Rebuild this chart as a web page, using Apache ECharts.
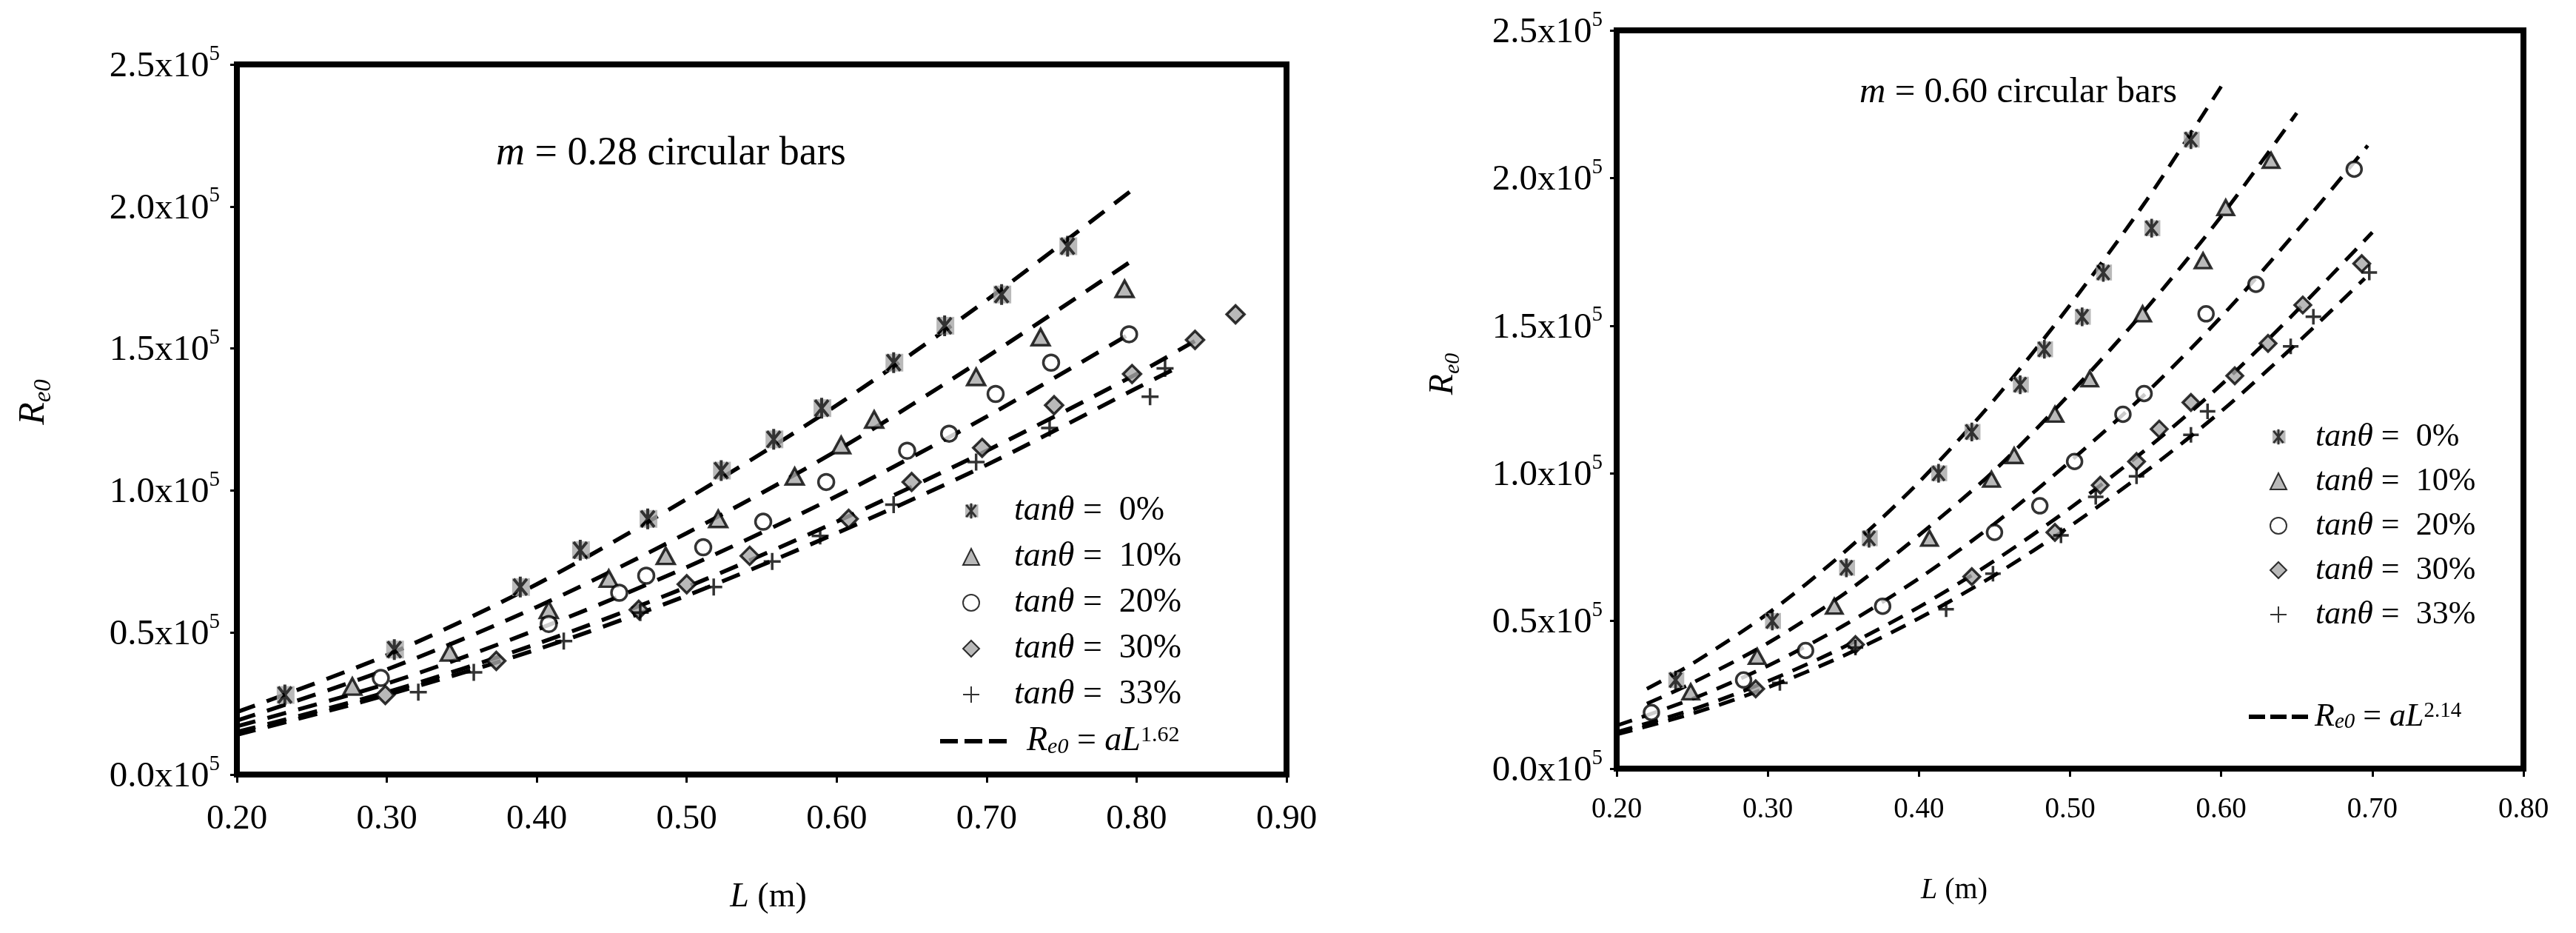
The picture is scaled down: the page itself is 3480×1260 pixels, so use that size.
<!DOCTYPE html>
<html>
<head>
<meta charset="utf-8">
<script src="https://cdn.jsdelivr.net/npm/echarts@6/dist/echarts.min.js"></script>
<style>
html, body { margin: 0; padding: 0; background: #fff; }
#chart { width: 3480px; height: 1260px; }
</style>
</head>
<body>
<div id="chart"></div>
<script>
// Re0 in units of 10^5, L in metres

// m = 0.28 circular bars (left)
var left0  = [[0.232,0.28],[0.305,0.44],[0.389,0.66],[0.429,0.79],[0.474,0.90],[0.523,1.07],[0.558,1.18],[0.590,1.29],[0.638,1.45],[0.672,1.58],[0.710,1.69],[0.754,1.86]];
var left10 = [[0.277,0.31],[0.342,0.43],[0.408,0.58],[0.448,0.69],[0.486,0.77],[0.521,0.90],[0.572,1.05],[0.603,1.16],[0.625,1.25],[0.693,1.40],[0.736,1.54],[0.792,1.71]];
var left20 = [[0.296,0.34],[0.408,0.53],[0.455,0.64],[0.473,0.70],[0.511,0.80],[0.551,0.89],[0.593,1.03],[0.647,1.14],[0.675,1.20],[0.706,1.34],[0.743,1.45],[0.795,1.55]];
var left30 = [[0.299,0.28],[0.373,0.40],[0.468,0.58],[0.500,0.67],[0.542,0.77],[0.608,0.90],[0.650,1.03],[0.697,1.15],[0.745,1.30],[0.797,1.41],[0.839,1.53],[0.866,1.62]];
var left33 = [[0.321,0.29],[0.358,0.36],[0.418,0.47],[0.469,0.57],[0.518,0.66],[0.557,0.75],[0.589,0.84],[0.638,0.95],[0.693,1.10],[0.742,1.22],[0.809,1.33],[0.819,1.43]];

// dashed fit curves
var leftFit0  = [[0.20,0.22],[0.30,0.42],[0.40,0.67],[0.50,0.97],[0.60,1.30],[0.70,1.67],[0.80,2.07]];
var leftFit10 = [[0.20,0.19],[0.30,0.37],[0.40,0.59],[0.50,0.85],[0.60,1.14],[0.70,1.47],[0.80,1.82]];
var leftFit20 = [[0.20,0.17],[0.30,0.32],[0.40,0.51],[0.50,0.73],[0.60,0.98],[0.70,1.26],[0.795,1.55]];
var leftFit30 = [[0.20,0.15],[0.30,0.29],[0.40,0.46],[0.50,0.66],[0.60,0.89],[0.70,1.14],[0.80,1.41],[0.84,1.53]];
var leftFit33 = [[0.20,0.14],[0.30,0.28],[0.40,0.44],[0.50,0.63],[0.60,0.85],[0.70,1.09],[0.80,1.36],[0.826,1.43]];

// m = 0.60 circular bars (right)
var right0  = [[0.239,0.30],[0.303,0.50],[0.352,0.68],[0.367,0.78],[0.413,1.00],[0.435,1.14],[0.467,1.30],[0.483,1.42],[0.508,1.53],[0.522,1.68],[0.554,1.83],[0.580,2.13]];
var right10 = [[0.249,0.26],[0.293,0.38],[0.344,0.55],[0.407,0.78],[0.448,0.98],[0.463,1.06],[0.490,1.20],[0.513,1.32],[0.548,1.54],[0.588,1.72],[0.603,1.90],[0.633,2.06]];
var right20 = [[0.223,0.19],[0.284,0.30],[0.325,0.40],[0.376,0.55],[0.450,0.80],[0.480,0.89],[0.503,1.04],[0.535,1.20],[0.549,1.27],[0.590,1.54],[0.623,1.64],[0.688,2.03]];
var right30 = [[0.292,0.27],[0.358,0.42],[0.435,0.65],[0.490,0.80],[0.520,0.96],[0.544,1.04],[0.559,1.15],[0.580,1.24],[0.609,1.33],[0.631,1.44],[0.654,1.57],[0.693,1.71]];
var right33 = [[0.308,0.29],[0.358,0.41],[0.418,0.54],[0.449,0.66],[0.494,0.79],[0.517,0.92],[0.544,0.99],[0.580,1.13],[0.591,1.21],[0.646,1.43],[0.661,1.53],[0.698,1.68]];

var rightFit0  = [[0.22,0.27],[0.25,0.355],[0.30,0.525],[0.35,0.73],[0.40,0.97],[0.45,1.25],[0.50,1.57],[0.55,1.92],[0.60,2.31]];
var rightFit10 = [[0.22,0.22],[0.25,0.29],[0.30,0.425],[0.35,0.59],[0.40,0.79],[0.45,1.01],[0.50,1.27],[0.55,1.555],[0.60,1.87],[0.65,2.22]];
var rightFit20 = [[0.20,0.146],[0.25,0.236],[0.30,0.348],[0.35,0.484],[0.40,0.644],[0.45,0.829],[0.50,1.04],[0.55,1.27],[0.60,1.53],[0.65,1.82],[0.697,2.11]];
var rightFit30 = [[0.20,0.124],[0.25,0.20],[0.30,0.296],[0.35,0.411],[0.40,0.547],[0.45,0.704],[0.50,0.882],[0.55,1.08],[0.60,1.30],[0.65,1.55],[0.70,1.816]];
var rightFit33 = [[0.20,0.116],[0.25,0.186],[0.30,0.275],[0.35,0.382],[0.40,0.509],[0.45,0.655],[0.50,0.821],[0.55,1.006],[0.60,1.21],[0.65,1.44],[0.695,1.66]];

var slopes = ['0%', '10%', '20%', '30%', '33%'];
var yTicks = [0, 0.5, 1.0, 1.5, 2.0, 2.5];

var FONT = 'Liberation Serif';
var GRAY = '#a8a8a8';

var starSvg = '<svg xmlns="http://www.w3.org/2000/svg" width="30" height="30" viewBox="0 0 30 30">' +
    '<rect x="4" y="3" width="24" height="24" fill="' + GRAY + '"/>' +
    '<path d="M6 4L24 26M24 4L6 26M15 1L15 29" stroke="#000" stroke-width="4" fill="none"/></svg>';

var SYMBOLS = [
    'image://data:image/svg+xml;charset=utf-8,' + encodeURIComponent(starSvg),
    'triangle',
    'circle',
    'diamond',
    'path://M0,10L20,10M10,0L10,20'
];
var STYLES = [
    {},
    { color: GRAY, borderColor: '#000', borderWidth: 3.5 },
    { color: '#fff', borderColor: '#000', borderWidth: 3.5 },
    { color: GRAY, borderColor: '#000', borderWidth: 3.5 },
    { color: '#000', borderColor: '#000', borderWidth: 3.5 }
];
var SIZE_L = [30, [24, 22], 21, 24, 23];
var SIZE_R = [27, [22, 20], 20, 22, 21];

function scatter(name, pts, k, ax, sizes) {
    return {
        name: name, type: 'scatter', xAxisIndex: ax, yAxisIndex: ax,
        data: pts, symbol: SYMBOLS[k], symbolSize: sizes[k],
        itemStyle: STYLES[k], z: 3, silent: true
    };
}
function fit(name, pts, ax, dash, w) {
    return {
        name: name, type: 'line', xAxisIndex: ax, yAxisIndex: ax,
        data: pts, smooth: 0.3, symbol: 'none', showSymbol: false,
        itemStyle: { color: '#000' },
        lineStyle: { color: '#000', width: w, type: dash, cap: 'butt' }, z: 2, silent: true
    };
}

var series = [];
[left0, left10, left20, left30, left33].forEach(function (d, k) { series.push(scatter('L' + k, d, k, 0, SIZE_L)); });
[leftFit0, leftFit10, leftFit20, leftFit30, leftFit33].forEach(function (d) { series.push(fit('Lfit', d, 0, [26, 17], 5.5)); });
[right0, right10, right20, right30, right33].forEach(function (d, k) { series.push(scatter('R' + k, d, k, 1, SIZE_R)); });
[rightFit0, rightFit10, rightFit20, rightFit30, rightFit33].forEach(function (d) { series.push(fit('Rfit', d, 1, [22, 14], 5)); });

var names = {};
slopes.forEach(function (s, k) {
    names['L' + k] = '{gap| }{it|tanθ}{n| =  ' + s + '}';
    names['R' + k] = '{gap| }{it|tanθ}{n| =  ' + s + '}';
});
names['Lfit'] = '{gap| }{it|R}{sub|e0}{n| = }{it|aL}{sup|1.62}';
names['Rfit'] = '{gap| }{it|R}{sub|e0}{n| = }{it|aL}{sup|2.14}';

function legendRich(size, gap) {
    return {
        gap: { width: gap, fontFamily: FONT, fontSize: size },
        it: { fontFamily: FONT, fontStyle: 'italic', fontSize: size, color: '#000' },
        n: { fontFamily: FONT, fontSize: size, color: '#000' },
        sub: { fontFamily: FONT, fontStyle: 'italic', fontSize: Math.round(size * 0.66), color: '#000', lineHeight: 22, verticalAlign: 'bottom' },
        sup: { fontFamily: FONT, fontSize: Math.round(size * 0.66), color: '#000', lineHeight: 22, verticalAlign: 'top' }
    };
}
function legendFmt(name) { return names[name]; }
function legendText(size, gap) {
    return { fontFamily: FONT, fontSize: size, color: '#000', rich: legendRich(size, gap) };
}

function tickRich(size) {
    return {
        n: { fontFamily: FONT, fontSize: size, color: '#000', lineHeight: size + 8, padding: [6, 0, 0, 0] },
        s: { fontFamily: FONT, fontSize: Math.round(size * 0.6), color: '#000', lineHeight: Math.round(size * 0.6), verticalAlign: 'top' }
    };
}

function xAxis(ax, max, fs, margin) {
    return {
        gridIndex: ax, type: 'value', min: 0.2, max: max, interval: 0.1,
        axisLine: { show: true, onZero: false, lineStyle: { color: '#000', width: 8 } },
        axisTick: { show: true, inside: false, length: 11, lineStyle: { color: '#000', width: 3 } },
        splitLine: { show: false },
        axisLabel: { fontFamily: FONT, fontSize: fs, color: '#000', margin: margin, formatter: function (v) { return v.toFixed(2); } }
    };
}
function yAxis(ax, margin) {
    return {
        gridIndex: ax, type: 'value', min: yTicks[0], max: yTicks[yTicks.length - 1], interval: 0.5,
        axisLine: { show: true, onZero: false, lineStyle: { color: '#000', width: 8 } },
        axisTick: { show: true, inside: false, length: 9, lineStyle: { color: '#000', width: 3 } },
        splitLine: { show: false },
        axisLabel: {
            margin: margin, fontFamily: FONT, rich: tickRich(49),
            formatter: function (v) { return '{n|' + v.toFixed(1) + 'x10}{s|5}'; }
        }
    };
}

function label(x, y, text, size, rot, align) {
    return {
        type: 'text', x: x, y: y, rotation: rot || 0, silent: true,
        style: {
            text: text, font: size + 'px "' + FONT + '"', fontFamily: FONT, fontSize: size, fill: '#000',
            align: align || 'center', verticalAlign: 'middle',
            rich: {
                i: { fontFamily: FONT, fontStyle: 'italic', fontSize: size, fill: '#000', lineHeight: size + 10 },
                r: { fontFamily: FONT, fontSize: size, fill: '#000', lineHeight: size + 10 },
                s: { fontFamily: FONT, fontStyle: 'italic', fontSize: Math.round(size * 0.66), fill: '#000', lineHeight: 28, verticalAlign: 'bottom' }
            }
        }
    };
}

var myChart = echarts.init(document.getElementById('chart'), null, { renderer: 'canvas' });

var option = {
    animation: false,
    backgroundColor: '#fff',
    textStyle: { fontFamily: FONT, color: '#000' },
    grid: [
        { left: 320, top: 87, right: 1742, bottom: 214, show: true, borderColor: '#000', borderWidth: 8, outerBoundsMode: 'none' },
        { left: 2184, top: 41, right: 71, bottom: 222, show: true, borderColor: '#000', borderWidth: 8, outerBoundsMode: 'none' }
    ],
    xAxis: [xAxis(0, 0.9, 47, 37), xAxis(1, 0.8, 39, 36)],
    yAxis: [yAxis(0, 23), yAxis(1, 19)],
    legend: [
        {
            data: ['L0', 'L1', 'L2', 'L3', 'L4'], orient: 'vertical', left: 1300, top: 667,
            padding: 0, itemWidth: 22, itemHeight: 22, itemGap: 16, selectedMode: false,
            formatter: legendFmt, textStyle: legendText(46, 42)
        },
        {
            data: [{ name: 'Lfit', icon: 'path://M0,0H24V6H0Z M33,0H57V6H33Z M66,0H90V6H66Z' }],
            orient: 'vertical', left: 1270, top: 978,
            padding: 0, itemWidth: 90, itemHeight: 6, selectedMode: false,
            itemStyle: { color: '#000', borderWidth: 0 },
            formatter: legendFmt, textStyle: legendText(46, 22)
        },
        {
            data: ['R0', 'R1', 'R2', 'R3', 'R4'], orient: 'vertical', left: 3066, top: 568,
            padding: 0, itemWidth: 22, itemHeight: 22, itemGap: 16, selectedMode: false,
            formatter: legendFmt, textStyle: legendText(44, 34)
        },
        {
            data: [{ name: 'Rfit', icon: 'path://M0,0H22V6H0Z M29,0H51V6H29Z M58,0H80V6H58Z' }],
            orient: 'vertical', left: 3038, top: 946,
            padding: 0, itemWidth: 80, itemHeight: 6, selectedMode: false,
            itemStyle: { color: '#000', borderWidth: 0 },
            formatter: legendFmt, textStyle: legendText(44, 4)
        }
    ],
    graphic: [
        label(670, 208, '{i|m}{r| = 0.28 circular bars}', 54, 0, 'left'),
        label(2512, 125, '{i|m}{r| = 0.60 circular bars}', 49, 0, 'left'),
        label(1038, 1212, '{i|L}{r| (m)}', 46),
        label(2640, 1202, '{i|L}{r| (m)}', 40),
        label(46, 543, '{i|R}{s|e0}', 50, Math.PI / 2),
        label(1950, 505, '{i|R}{s|e0}', 46, Math.PI / 2)
    ],
    series: series
};

myChart.setOption(option);
window.addEventListener('resize', function () {
    myChart.resize();
});
</script>
</body>
</html>
